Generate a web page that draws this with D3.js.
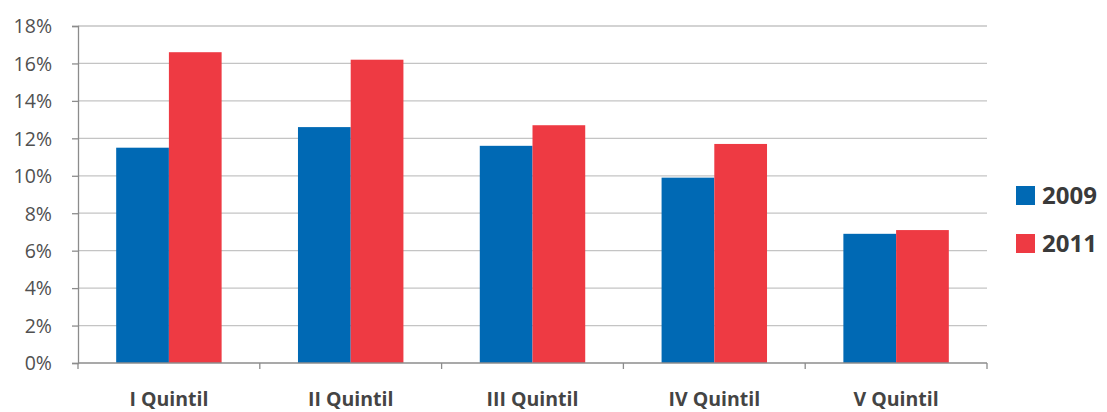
<!DOCTYPE html>
<html>
<head>
<meta charset="utf-8">
<script src="https://cdn.jsdelivr.net/npm/d3@7"></script>
<style>
  html, body { margin: 0; padding: 0; background: #fff; }
  svg { display: block; }
</style>
</head>
<body>
<svg id="chart" width="1107" height="412"></svg>
<script>
// Share of households by income quintil, 2009 vs 2011
const categories = ["I Quintil", "II Quintil", "III Quintil", "IV Quintil", "V Quintil"];
const seriesNames = ["2009", "2011"];
const values2009 = [11.5, 12.6, 11.6, 9.9, 6.9];
const values2011 = [16.6, 16.2, 12.7, 11.7, 7.1];
const yTicks = [0, 2, 4, 6, 8, 10, 12, 14, 16, 18];
const colors = ["#0069b4", "#ee3a43"];

const svg = d3.select("#chart");
const margin = { left: 78, top: 26 };
const innerRight = 987;
const innerBottom = 363;

const x = d3.scaleBand()
  .domain(categories)
  .range([margin.left, innerRight])
  .paddingInner(0.42)
  .paddingOuter(0.21);

const xSub = d3.scaleBand()
  .domain(seriesNames)
  .range([0, x.bandwidth()]);

const y = d3.scaleLinear()
  .domain([0, 18])
  .range([innerBottom, margin.top]);

const font = "'Open Sans', 'Liberation Sans', sans-serif";

// horizontal gridlines
svg.append("g")
  .selectAll("line")
  .data(yTicks.filter(d => d > 0))
  .join("line")
  .attr("x1", margin.left)
  .attr("x2", innerRight)
  .attr("y1", d => y(d))
  .attr("y2", d => y(d))
  .attr("stroke", "#c4c4c4")
  .attr("stroke-width", 1.3);

// y axis
const yAxis = svg.append("g")
  .attr("transform", `translate(${margin.left},0)`)
  .call(d3.axisLeft(y).tickValues(yTicks).tickFormat(d => d + "%").tickSize(6).tickPadding(20));
yAxis.select(".domain").attr("stroke", "#8c8c8c").attr("stroke-width", 1.3);
yAxis.selectAll(".tick line").attr("stroke", "#8c8c8c").attr("stroke-width", 1.3);
yAxis.selectAll("text")
  .attr("font-family", font)
  .attr("font-size", 19.5)
  .attr("fill", "#505050")
  .attr("dy", "0.35em");

// bars
const rows = categories.map((c, i) => ({ c, vals: [values2009[i], values2011[i]] }));
const groups = svg.append("g")
  .selectAll("g")
  .data(rows)
  .join("g")
  .attr("transform", d => `translate(${x(d.c)},0)`);

groups.selectAll("rect")
  .data(d => d.vals.map((v, j) => ({ key: seriesNames[j], v, j })))
  .join("rect")
  .attr("x", d => xSub(d.key))
  .attr("width", xSub.bandwidth())
  .attr("y", d => y(d.v))
  .attr("height", d => y(0) - y(d.v))
  .attr("fill", d => colors[d.j]);

// x axis baseline and category ticks
const step = x.step();
const tickXs = d3.range(categories.length + 1).map(i => margin.left + i * step);
svg.append("line")
  .attr("x1", margin.left).attr("x2", innerRight)
  .attr("y1", innerBottom).attr("y2", innerBottom)
  .attr("stroke", "#8c8c8c").attr("stroke-width", 1.3);
svg.append("g").selectAll("line")
  .data(tickXs)
  .join("line")
  .attr("x1", d => d).attr("x2", d => d)
  .attr("y1", innerBottom).attr("y2", innerBottom + 6)
  .attr("stroke", "#8c8c8c").attr("stroke-width", 1.3);

svg.append("g").selectAll("text")
  .data(categories)
  .join("text")
  .attr("x", d => x(d) + x.bandwidth() / 2)
  .attr("y", 406)
  .attr("text-anchor", "middle")
  .attr("font-family", font)
  .attr("font-weight", "bold")
  .attr("font-size", 19.5)
  .attr("fill", "#444")
  .text(d => d);

// legend
const legend = svg.append("g")
  .selectAll("g")
  .data(seriesNames)
  .join("g")
  .attr("transform", (d, i) => `translate(1016,${186 + i * 48})`);
legend.append("rect")
  .attr("width", 19).attr("height", 19)
  .attr("fill", (d, i) => colors[i]);
legend.append("text")
  .attr("x", 26).attr("y", 18)
  .attr("font-family", font)
  .attr("font-weight", "bold")
  .attr("font-size", 24)
  .attr("fill", "#3a3a3a")
  .text(d => d);
</script>
</body>
</html>
